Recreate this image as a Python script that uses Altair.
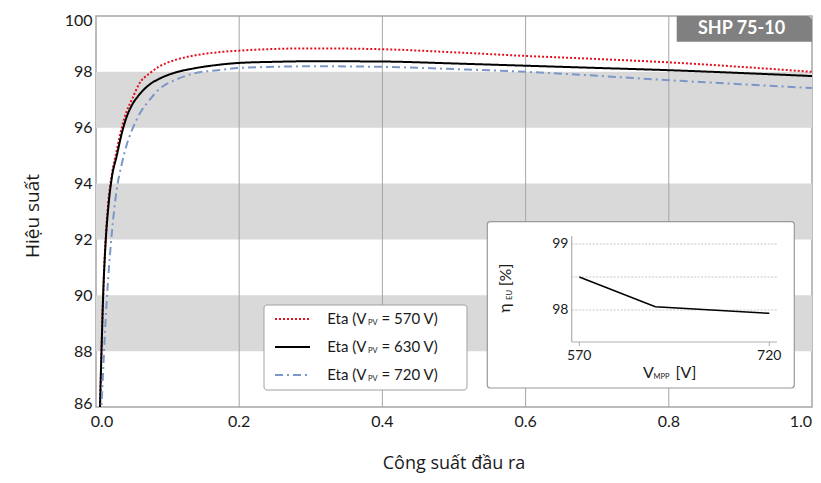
import altair as alt
import pandas as pd

# ---------------- data ----------------
load = [0.0056, 0.008, 0.010, 0.013, 0.017, 0.022, 0.029, 0.036, 0.043, 0.05,
        0.061, 0.075, 0.089, 0.11, 0.136, 0.17, 0.2, 0.25, 0.3, 0.4, 0.5, 0.6,
        0.7, 0.8, 0.9, 1.0]
eta_570 = [86.0, 88.3, 90.0, 91.8, 93.3, 94.3, 95.2, 96.0, 96.6, 97.0,
           97.6, 97.95, 98.2, 98.42, 98.58, 98.7, 98.76, 98.82, 98.84, 98.81,
           98.7, 98.57, 98.46, 98.34, 98.18, 98.0]
eta_630 = [86.0, 88.3, 90.0, 91.7, 93.1, 94.2, 95.0, 95.8, 96.4, 96.8,
           97.2, 97.55, 97.76, 97.97, 98.12, 98.25, 98.32, 98.36, 98.38, 98.37,
           98.3, 98.22, 98.14, 98.06, 97.96, 97.85]
eta_720 = [85.0, 86.2, 87.3, 88.9, 90.6, 92.2, 93.8, 94.7, 95.4, 95.9,
           96.5, 97.0, 97.4, 97.7, 97.94, 98.06, 98.14, 98.18, 98.2, 98.18,
           98.1, 98.0, 97.86, 97.7, 97.56, 97.42]
series_names = ["570", "630", "720"]
series_colors = ["#e3101f", "#000000", "#7b97c8"]
series_dash = [[2, 2], [1, 0], [8, 4, 2, 4]]

band_lo = [96, 92, 88]
band_hi = [98, 94, 90]
grid_x = [0.2, 0.4, 0.6, 0.8]
x_ticks = [0.0, 0.2, 0.4, 0.6, 0.8, 1.0]
y_ticks = [86, 88, 90, 92, 94, 96, 98, 100]

inset_v = [570, 630, 720]
inset_eta = [98.5, 98.05, 97.95]
inset_grid = [98.0, 98.5, 99.0]
inset_xticks = [570, 720]
inset_yticks = [98, 99]

legend_labels = ["570", "630", "720"]

W, H = 716, 391
TICK_FONT = "Lato"
TITLE_FONT = "Open Sans"
INK = "#1a1a1a"

rows = []
for name, vals in zip(series_names, [eta_570, eta_630, eta_720]):
    for x, v in zip(load, vals):
        rows.append({"load": x, "eta": v, "series": name})
curves = pd.DataFrame(rows)
bands = pd.DataFrame({"lo": band_lo, "hi": band_hi})
grids = pd.DataFrame({"g": grid_x})
xt_mid = pd.DataFrame({"t": x_ticks[1:-1]})
xt_first = pd.DataFrame({"t": x_ticks[:1]})
xt_last = pd.DataFrame({"t": x_ticks[-1:]})
inset_df = pd.DataFrame({"v": inset_v, "eta": inset_eta})
inset_grid_df = pd.DataFrame({"g": inset_grid})
inset_xt_df = pd.DataFrame({"t": inset_xticks, "lab": [str(t) for t in inset_xticks]})
inset_yt_df = pd.DataFrame({"t": inset_yticks, "lab": [str(t) for t in inset_yticks]})
dummy = pd.DataFrame({"_": [0]})

xs = alt.Scale(domain=[0, 1], nice=False, zero=False)
ys = alt.Scale(domain=[86, 100], nice=False, zero=False)

# ---------------- main panel ----------------
band_layer = alt.Chart(bands).mark_rect(color="#d9d9d9").encode(
    x=alt.datum(0, scale=xs), x2=alt.datum(1),
    y=alt.Y("lo:Q", scale=ys), y2="hi:Q")

grid_layer = alt.Chart(grids).mark_rule(color="#a6a6a6", strokeWidth=1).encode(
    x=alt.X("g:Q", scale=xs))

line_layer = alt.Chart(curves).mark_line(strokeWidth=2, clip=True, interpolate="monotone").encode(
    x=alt.X("load:Q", scale=xs,
            axis=alt.Axis(values=x_ticks, labels=False, title=None)),
    y=alt.Y("eta:Q", scale=ys,
            axis=alt.Axis(values=y_ticks, format="d", title=None,
                          labelFlush=True, labelFlushOffset=4)),
    color=alt.Color("series:N", scale=alt.Scale(domain=series_names, range=series_colors), legend=None),
    strokeDash=alt.StrokeDash("series:N", scale=alt.Scale(domain=series_names, range=series_dash), legend=None),
    detail="series:N",
)

XLAB_Y = 405.5


def xlab(df, align, dx):
    return alt.Chart(df).mark_text(
        align=align, baseline="middle", fontSize=16, font=TICK_FONT, color=INK, dx=dx).encode(
        x=alt.X("t:Q", scale=xs, axis=None), y=alt.value(XLAB_Y),
        text=alt.Text("t:Q", format=".1f"))


xlabels = [xlab(xt_mid, "center", 0), xlab(xt_first, "center", 6), xlab(xt_last, "right", 0)]


def txt(text, x, y, size, align="left", font=TICK_FONT, color=INK, weight="normal", angle=0):
    return alt.Chart(dummy).mark_text(
        text=text, align=align, baseline="middle", fontSize=size, font=font,
        color=color, fontWeight=weight, angle=angle).encode(
        x=alt.value(x), y=alt.value(y))


def box(x, x2, y, y2, **kw):
    return alt.Chart(dummy).mark_rect(**kw).encode(
        x=alt.value(x), x2=alt.value(x2), y=alt.value(y), y2=alt.value(y2))


titles = [
    txt("Công suất đầu ra", 358, 448, 18, align="center", font=TITLE_FONT),
    txt("Hiệu suất", -63, 200, 19, align="center", font=TITLE_FONT, angle=270),
]

# legend (custom, to allow subscripts)
leg = [box(168, 371, 289, 374, fill="white", stroke="#a0a0a0", strokeWidth=1, cornerRadius=3)]
row_y = [303, 331, 359]
for lab, col, dash, ry in zip(legend_labels, series_colors, series_dash, row_y):
    leg.append(alt.Chart(dummy).mark_rule(color=col, strokeWidth=2, strokeDash=dash).encode(
        x=alt.value(179), x2=alt.value(214), y=alt.value(ry)))
    leg.append(txt("Eta (V", 270.5, ry, 15, align="right"))
    leg.append(txt("PV", 272, ry + 4, 7.5))
    leg.append(txt("= " + lab + " V)", 285.5, ry, 15))

# title tab
tab = [
    box(580.7, 716, 0, 25.7, fill="#808080", cornerRadiusTopRight=5),
    txt("SHP 75-10", 645.5, 12.5, 18, align="center", color="white", weight="bold"),
]

main = alt.layer(band_layer, grid_layer, line_layer, *xlabels, *titles, *leg, *tab)

# ---------------- inset ----------------
ixs = alt.Scale(domain=[570, 720], range=[483.3, 673.3], nice=False, zero=False)
iys = alt.Scale(domain=[98, 99], range=[294, 228], nice=False, zero=False)

inset_box = box(391.3, 698.3, 205.7, 372, fill="white", stroke="#999999", strokeWidth=1.2, cornerRadius=3)
inset_gridlines = alt.Chart(inset_grid_df).mark_rule(color="#b8b8b8", strokeWidth=0.8, strokeDash=[2, 1.5]).encode(
    x=alt.value(475.7), x2=alt.value(681), y=alt.Y("g:Q", scale=iys, axis=None))
inset_vaxis = alt.Chart(dummy).mark_rule(color="#b0b0b0", strokeWidth=1.2).encode(
    x=alt.value(475.7), y=alt.value(220), y2=alt.value(326))
inset_haxis = alt.Chart(dummy).mark_rule(color="#b0b0b0", strokeWidth=1.2).encode(
    x=alt.value(475.7), x2=alt.value(681), y=alt.value(326))
inset_ticks = alt.Chart(inset_xt_df).mark_rule(color="#b0b0b0", strokeWidth=1).encode(
    x=alt.X("t:Q", scale=ixs, axis=None), y=alt.value(326), y2=alt.value(330))
inset_xlabels = alt.Chart(inset_xt_df).mark_text(
    align="center", baseline="middle", fontSize=14, font=TICK_FONT, color=INK).encode(
    x=alt.X("t:Q", scale=ixs, axis=None), y=alt.value(339.5), text="lab:N")
inset_ylabels = alt.Chart(inset_yt_df).mark_text(
    align="right", baseline="middle", fontSize=14, font=TICK_FONT, color=INK).encode(
    x=alt.value(472.5), y=alt.Y("t:Q", scale=iys, axis=None), text="lab:N")
inset_line = alt.Chart(inset_df).mark_line(color="black", strokeWidth=1.5).encode(
    x=alt.X("v:Q", scale=ixs, axis=None), y=alt.Y("eta:Q", scale=iys, axis=None))

inset_titles = [
    txt("η", 409, 292, 16, align="center", angle=270),
    txt("EU", 414, 279, 7.5, align="center", angle=270),
    txt("[%]", 409.5, 259, 16, align="center", angle=270),
    txt("V", 547, 357, 16),
    txt("MPP", 557.5, 360.5, 7.5),
    txt("[V]", 579.5, 357, 16),
]

inset = alt.layer(inset_box, inset_gridlines, inset_vaxis, inset_haxis, inset_ticks,
                  inset_line, inset_xlabels, inset_ylabels, *inset_titles)

chart = alt.layer(main, inset).resolve_scale(x="independent", y="independent").properties(
    width=W, height=H,
    autosize=alt.AutoSizeParams(type="none"),
    padding={"left": 88, "top": 8, "right": 1, "bottom": 67},
).configure_view(
    stroke="#a6a6a6", strokeWidth=1.5
).configure_axis(
    domain=False, ticks=False, grid=False,
    labelFont=TICK_FONT, labelFontSize=16, labelColor=INK,
).configure_axisY(
    labelPadding=4,
)

chart.save("out.html", embed_options={"renderer": "svg", "actions": False})
